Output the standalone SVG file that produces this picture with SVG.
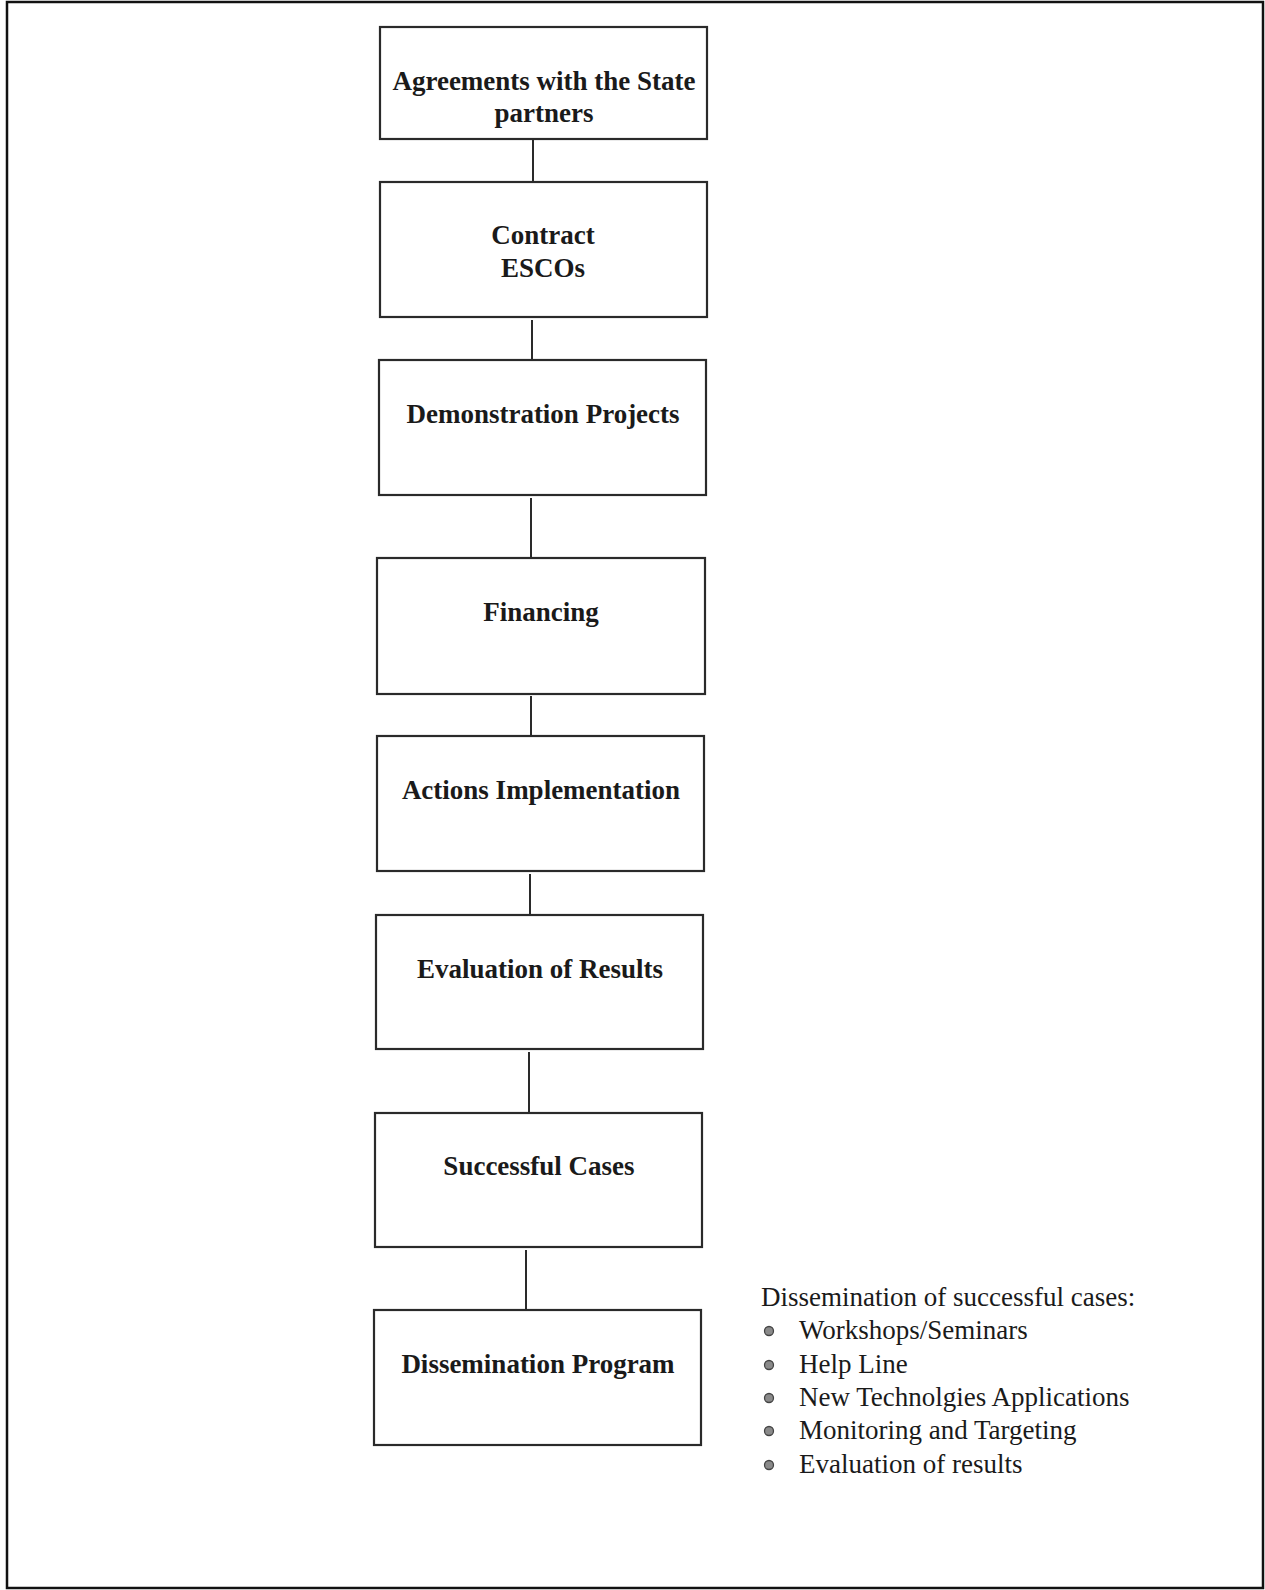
<svg xmlns="http://www.w3.org/2000/svg" width="1265" height="1590" viewBox="0 0 1265 1590">
<style>
.box{fill:#fff;stroke:#2a2a2a;stroke-width:2.2}
.lbl{font-family:"Liberation Serif","Times New Roman",serif;font-weight:bold;font-size:27px;fill:#1a1a1a;text-anchor:middle}
.lst{font-family:"Liberation Serif","Times New Roman",serif;font-size:27px;fill:#1a1a1a}
.con{stroke:#2a2a2a;stroke-width:2;fill:none}
.bul{fill:#8a8a8a;stroke:#444;stroke-width:1.3}
</style>
<rect x="0" y="0" width="1265" height="1590" fill="#fff"/>
<rect x="7" y="2" width="1256" height="1586" fill="none" stroke="#111" stroke-width="2.5"/>
<g id="connectors">
<line class="con" x1="533" y1="139" x2="533" y2="182"/>
<line class="con" x1="532" y1="320" x2="532" y2="360"/>
<line class="con" x1="531" y1="498" x2="531" y2="558"/>
<line class="con" x1="531" y1="696" x2="531" y2="736"/>
<line class="con" x1="530" y1="874" x2="530" y2="915"/>
<line class="con" x1="529" y1="1052" x2="529" y2="1113"/>
<line class="con" x1="526" y1="1250" x2="526" y2="1310"/>
</g>
<g id="n1"><rect class="box" x="380" y="27" width="327" height="112"/>
<text class="lbl" x="544" y="90">Agreements with the State</text>
<text class="lbl" x="544" y="122">partners</text></g>
<g id="n2"><rect class="box" x="380" y="182" width="327" height="135"/>
<text class="lbl" x="543" y="244">Contract</text>
<text class="lbl" x="543" y="277">ESCOs</text></g>
<g id="n3"><rect class="box" x="379" y="360" width="327" height="135"/>
<text class="lbl" x="543" y="423">Demonstration Projects</text></g>
<g id="n4"><rect class="box" x="377" y="558" width="328" height="136"/>
<text class="lbl" x="541" y="621">Financing</text></g>
<g id="n5"><rect class="box" x="377" y="736" width="327" height="135"/>
<text class="lbl" x="541" y="799">Actions Implementation</text></g>
<g id="n6"><rect class="box" x="376" y="915" width="327" height="134"/>
<text class="lbl" x="540" y="978">Evaluation of Results</text></g>
<g id="n7"><rect class="box" x="375" y="1113" width="327" height="134"/>
<text class="lbl" x="539" y="1175">Successful Cases</text></g>
<g id="n8"><rect class="box" x="374" y="1310" width="327" height="135"/>
<text class="lbl" x="538" y="1373">Dissemination Program</text></g>
<g id="list">
<text class="lst" x="761" y="1306">Dissemination of successful cases:</text>
<circle class="bul" cx="769" cy="1331" r="4.5"/>
<text class="lst" x="799" y="1339">Workshops/Seminars</text>
<circle class="bul" cx="769" cy="1365" r="4.5"/>
<text class="lst" x="799" y="1373">Help Line</text>
<circle class="bul" cx="769" cy="1398" r="4.5"/>
<text class="lst" x="799" y="1406">New Technolgies Applications</text>
<circle class="bul" cx="769" cy="1431" r="4.5"/>
<text class="lst" x="799" y="1439">Monitoring and Targeting</text>
<circle class="bul" cx="769" cy="1465" r="4.5"/>
<text class="lst" x="799" y="1473">Evaluation of results</text>
</g>
</svg>
